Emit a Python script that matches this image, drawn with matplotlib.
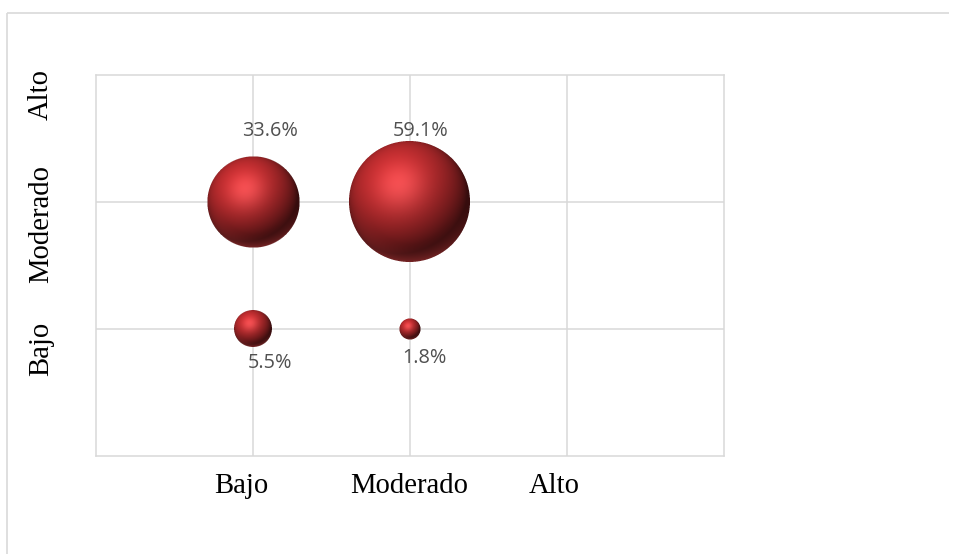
import numpy as np
import matplotlib
matplotlib.use("Agg")
import matplotlib.pyplot as plt
from matplotlib.offsetbox import OffsetImage, AnnotationBbox
from matplotlib.lines import Line2D

# niveles en ambos ejes
niveles = ["Bajo", "Moderado", "Alto"]
x_nivel = [1, 1, 2, 2]          # Bajo, Bajo, Moderado, Moderado
y_nivel = [2, 1, 2, 1]          # Moderado, Bajo, Moderado, Bajo
porcentajes = [33.6, 5.5, 59.1, 1.8]
etiquetas = ["33.6%", "5.5%", "59.1%", "1.8%"]

W, H, DPI = 954, 554, 100
GRIS = "#d9d9d9"
D_MAX = 121  # diametro en px de la burbuja mayor


def esfera(d, ss=4):
    """Imagen RGBA de una esfera roja con brillo, de d px de diametro."""
    n = int(np.ceil(d)) + 2
    m = n * ss
    c = (np.arange(m) + 0.5) / ss - n / 2
    X, Y = np.meshgrid(c, c)
    R = d / 2
    u = X / R
    v = -Y / R
    r2 = u ** 2 + v ** 2
    dentro = r2 <= 1
    z = np.sqrt(np.clip(1 - r2, 0, 1))
    L = np.array([-0.30, 0.50, 0.80])
    L = L / np.linalg.norm(L)
    Hv = L + np.array([0, 0, 1.0])
    Hv = Hv / np.linalg.norm(Hv)
    dif = np.clip(u * L[0] + v * L[1] + z * L[2], 0, 1)
    esp = np.clip(u * Hv[0] + v * Hv[1] + z * Hv[2], 0, 1) ** 12
    base = np.array([0.77, 0.18, 0.19])
    rgb = base[None, None, :] * (0.28 + 0.76 * dif)[..., None]
    rgb = rgb + 0.18 * esp[..., None] * np.array([1.0, 0.72, 0.72])
    # reflejo suave en el borde inferior
    borde = np.clip((np.sqrt(r2) - 0.70) / 0.30, 0, 1)
    abajo = np.clip(-v - 0.1, 0, 1)
    refl = (borde * abajo) ** 1.3 * 0.40
    rgb = rgb + refl[..., None] * np.array([0.70, 0.26, 0.26])
    rgb = np.clip(rgb, 0, 1)
    a = dentro.astype(float)
    img = np.dstack([rgb * a[..., None], a])
    img = img.reshape(n, ss, n, ss, 4).mean(axis=(1, 3))
    alfa = img[..., 3:4]
    img[..., :3] = np.where(alfa > 0, img[..., :3] / np.maximum(alfa, 1e-6), 0)
    return img


fig = plt.figure(figsize=(W / DPI, H / DPI), dpi=DPI)
ax = fig.add_axes([96 / W, 98 / H, 628 / W, 381 / H])
ax.set_xlim(0, 4)
ax.set_ylim(0, 3)
ax.set_xticks([1, 2, 3])
ax.set_yticks([1, 2])
ax.grid(True, color=GRIS, lw=1.1)
ax.tick_params(length=0, labelbottom=False, labelleft=False)
for s in ax.spines.values():
    s.set_color(GRIS)
    s.set_linewidth(1.1)
ax.set_axisbelow(True)

# burbujas: area proporcional al porcentaje
p_max = max(porcentajes)
for x, y, p in zip(x_nivel, y_nivel, porcentajes):
    d = D_MAX * np.sqrt(p / p_max)
    im = OffsetImage(esfera(d), zoom=1, dpi_cor=False)
    ab = AnnotationBbox(im, (x, y), xycoords="data", frameon=False, pad=0,
                        box_alignment=(0.5, 0.5), zorder=3)
    ax.add_artist(ab)

# etiquetas de datos
desplaz = [(12.2, 47.5), (11.9, -28.0), (7.9, 47.5), (10.4, -24.5)]
for x, y, t, off in zip(x_nivel, y_nivel, etiquetas, desplaz):
    ax.annotate(t, (x, y), xytext=off, textcoords="offset points",
                ha="center", va="baseline", fontsize=14.3,
                family="Open Sans", color="#505050", zorder=4)

# rotulos de categorias
fx = [241, 409, 554]
for t, px in zip(niveles, fx):
    fig.text(px / W, (H - 493) / H, t, ha="center", va="baseline",
             family="Liberation Serif", fontsize=20.6, color="black")
fy = [349, 224, 94]
for t, py in zip(niveles, fy):
    fig.text(48 / W, (H - py) / H, t, ha="center", va="baseline",
             rotation=90, rotation_mode="anchor",
             family="Liberation Serif", fontsize=20.6, color="black")

# marco del grafico (solo bordes superior e izquierdo quedan a la vista)
x0, y0 = 7.3 / W, (H - 12.7) / H
fig.add_artist(Line2D([x0, x0], [0.0, y0], transform=fig.transFigure,
                      color=GRIS, lw=1.2, solid_capstyle="butt"))
fig.add_artist(Line2D([x0, 0.995], [y0, y0], transform=fig.transFigure,
                      color=GRIS, lw=1.2, solid_capstyle="butt"))

fig.savefig("out.png", dpi=DPI)
